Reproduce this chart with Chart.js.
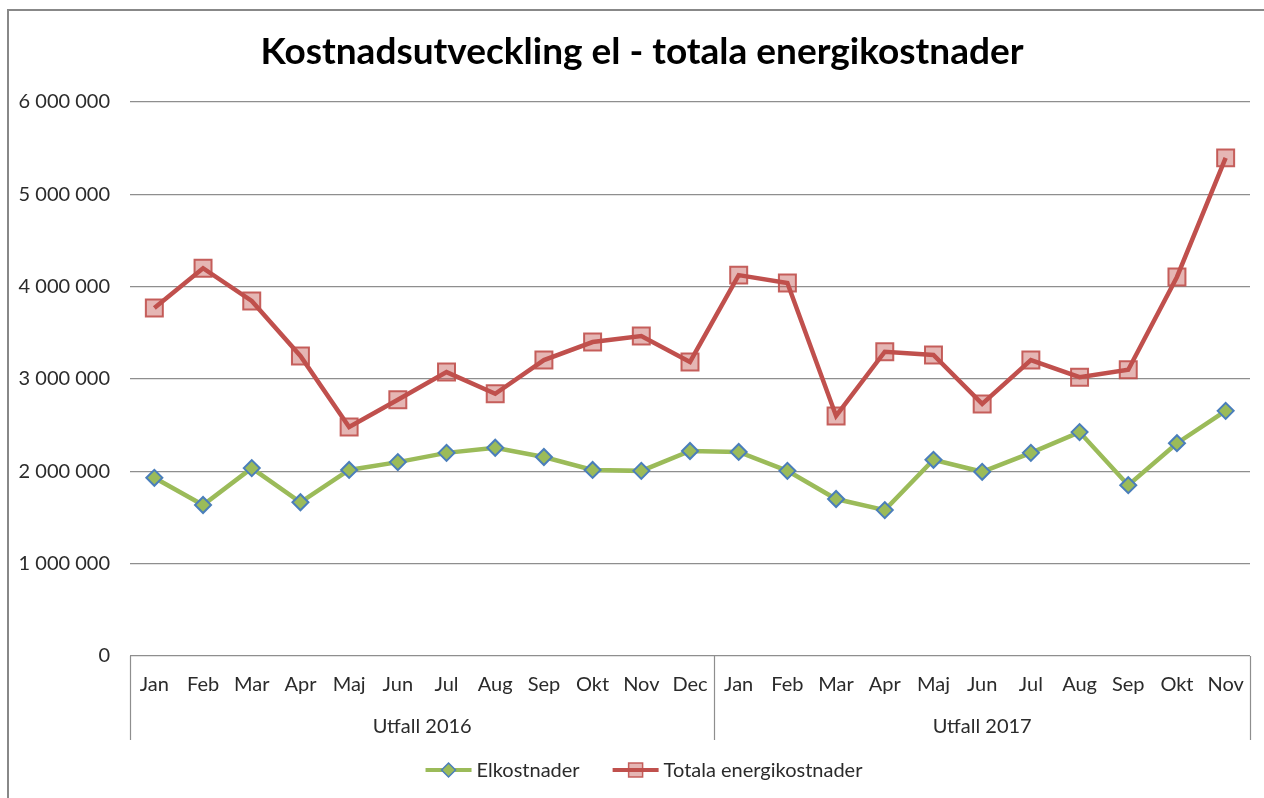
<!DOCTYPE html>
<html><head><meta charset="utf-8">
<script src="https://cdn.jsdelivr.net/npm/chart.js@4/dist/chart.umd.min.js"></script>
<style>html,body{margin:0;padding:0;background:#fff;overflow:hidden}</style>
</head><body>
<canvas id="c" width="1264" height="798"></canvas>
<script>
const months = ['Jan','Feb','Mar','Apr','Maj','Jun','Jul','Aug','Sep','Okt','Nov','Dec',
                'Jan','Feb','Mar','Apr','Maj','Jun','Jul','Aug','Sep','Okt','Nov'];
const groups = ['Utfall 2016','Utfall 2017'];
const groupSizes = [12, 11];
const elkostnader = [1930000,1635000,2035000,1665000,2015000,2100000,2200000,2255000,2155000,2015000,2005000,2220000,
                     2210000,2005000,1700000,1580000,2125000,1995000,2200000,2425000,1850000,2305000,2655000];
const totalaEnergikostnader = [3770000,4200000,3845000,3250000,2480000,2775000,3075000,2840000,3205000,3400000,3465000,3185000,
                     4125000,4040000,2600000,3295000,3260000,2730000,3205000,3020000,3100000,4105000,5395000];
const yMin = 0, yMax = 6000000, yStep = 1000000;
const titleText = 'Kostnadsutveckling el - totala energikostnader';
const seriesNames = ['Elkostnader', 'Totala energikostnader'];

const FONT = 'Lato';
const TXT = '#2b2b2b';
const GREEN = '#9BBB59', BLUE = '#4A7EBB', RED = '#C0504D';

function fmt(v){ return String(v).replace(/\B(?=(\d{3})+(?!\d))/g, ' '); }

const deco = {
  id: 'deco',
  beforeDraw(chart){
    const ctx = chart.ctx;
    ctx.save();
    ctx.strokeStyle = '#888888';
    ctx.lineWidth = 2;
    ctx.strokeRect(8, 10, 1400, 1000);
    ctx.restore();
  },
  afterDraw(chart){
    const ctx = chart.ctx, xs = chart.scales.x, area = chart.chartArea;
    ctx.save();
    // title
    ctx.fillStyle = '#000';
    ctx.font = 'bold 37px ' + FONT;
    ctx.textAlign = 'center';
    ctx.textBaseline = 'middle';
    ctx.fillText(titleText, 642, 52);
    // category group separators and labels
    const step = xs.getPixelForValue(1) - xs.getPixelForValue(0);
    const bounds = [xs.getPixelForValue(0) - step/2];
    let idx = 0;
    groupSizes.forEach(n => { idx += n; bounds.push(xs.getPixelForValue(idx-1) + step/2); });
    ctx.strokeStyle = '#8E8E8E';
    ctx.lineWidth = 1.2;
    bounds.forEach(b => {
      const x = Math.round(b) + 0.5;
      ctx.beginPath(); ctx.moveTo(x, area.bottom); ctx.lineTo(x, area.bottom + 84); ctx.stroke();
    });
    ctx.fillStyle = TXT;
    ctx.font = '20px ' + FONT;
    groups.forEach((g, i) => {
      ctx.fillText(g, (bounds[i] + bounds[i+1]) / 2, area.bottom + 71);
    });
    // legend
    const ly = 770;
    const lineW = 46, gapText = 5, gapItem = 33;
    ctx.textAlign = 'left';
    const w0 = ctx.measureText(seriesNames[0]).width, w1 = ctx.measureText(seriesNames[1]).width;
    const total = lineW + gapText + w0 + gapItem + lineW + gapText + w1;
    let x = 644 - total / 2;
    const ds = chart.data.datasets;
    ds.forEach((d, i) => {
      ctx.strokeStyle = d.borderColor;
      ctx.lineWidth = 4;
      ctx.beginPath(); ctx.moveTo(x, ly); ctx.lineTo(x + lineW, ly); ctx.stroke();
      const cx = x + lineW / 2;
      ctx.fillStyle = d.pointBackgroundColor;
      ctx.strokeStyle = d.pointBorderColor;
      ctx.lineWidth = 1.5;
      ctx.beginPath();
      if (i === 0) {
        const r = 7;
        ctx.moveTo(cx - r, ly); ctx.lineTo(cx, ly - r); ctx.lineTo(cx + r, ly); ctx.lineTo(cx, ly + r); ctx.closePath();
      } else {
        const s = 7;
        ctx.rect(cx - s, ly - s, 2*s, 2*s);
      }
      ctx.fill(); ctx.stroke();
      ctx.fillStyle = TXT;
      ctx.fillText(seriesNames[i], x + lineW + gapText, ly + 1);
      x += lineW + gapText + (i === 0 ? w0 : w1) + gapItem;
    });
    ctx.restore();
  }
};

new Chart(document.getElementById('c'), {
  type: 'line',
  data: {
    labels: months,
    datasets: [{
      label: seriesNames[0],
      data: elkostnader,
      borderColor: GREEN,
      borderWidth: 4.5,
      tension: 0,
      pointStyle: 'rectRot',
      pointRadius: 8,
      pointHoverRadius: 8,
      pointBackgroundColor: GREEN,
      pointBorderColor: BLUE,
      pointBorderWidth: 2
    }, {
      label: seriesNames[1],
      data: totalaEnergikostnader,
      borderColor: RED,
      borderWidth: 4.5,
      tension: 0,
      pointStyle: 'rect',
      pointRadius: 12,
      pointHoverRadius: 12,
      pointBackgroundColor: 'rgba(192,80,77,0.42)',
      pointBorderColor: 'rgba(192,80,77,0.9)',
      pointBorderWidth: 2
    }]
  },
  options: {
    responsive: false,
    animation: false,
    layout: { padding: { left: 8, right: 14, top: 102, bottom: 58 } },
    plugins: {
      legend: { display: false },
      tooltip: { enabled: false },
      title: { display: false }
    },
    scales: {
      x: {
        offset: true,
        grid: { display: false, drawTicks: false },
        border: { display: false },
        ticks: { color: TXT, font: { family: FONT, size: 20 }, padding: 17, maxRotation: 0, autoSkip: false },
        afterFit(s){ s.height = 84; }
      },
      y: {
        min: yMin, max: yMax,
        ticks: { stepSize: yStep, color: TXT, font: { family: FONT, size: 20 }, padding: 20, callback: v => fmt(v) },
        grid: { color: '#8E8E8E', lineWidth: 1.2, drawTicks: false },
        border: { display: false },
        afterFit(s){ s.width = 122; }
      }
    }
  },
  plugins: [deco]
});
</script>
</body></html>
